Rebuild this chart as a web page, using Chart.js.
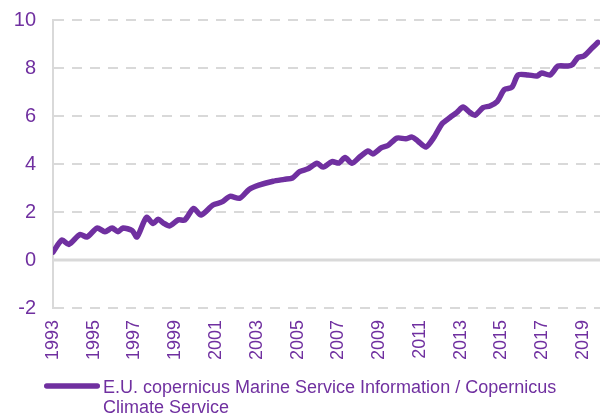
<!DOCTYPE html>
<html>
<head>
<meta charset="utf-8">
<script src="https://cdn.jsdelivr.net/npm/chart.js@4/dist/chart.umd.min.js"></script>
<style>
html,body{margin:0;padding:0;background:#ffffff;}
#wrap{width:601px;height:417px;position:relative;}
</style>
</head>
<body>
<div id="wrap"><canvas id="c" width="601" height="417"></canvas></div>
<script>
// Decimal years of each sample (x) and global mean sea level change (cm) (y)
const years = [
  1993.00, 1993.44, 1993.78, 1994.32, 1994.67, 1995.16, 1995.55, 1995.90, 1996.19, 1996.43,
  1996.88, 1997.12, 1997.58, 1997.92, 1998.16, 1998.42, 1998.73, 1999.14, 1999.47, 1999.90,
  2000.26, 2000.85, 2001.29, 2001.68, 2002.17, 2002.62, 2003.10, 2003.80, 2004.35, 2004.75,
  2005.10, 2005.51, 2005.96, 2006.25, 2006.69, 2007.03, 2007.33, 2007.67, 2008.06, 2008.46,
  2008.70, 2009.12, 2009.43, 2009.88, 2010.31, 2010.62, 2010.91, 2011.30, 2011.70, 2012.09,
  2012.48, 2012.82, 2013.12, 2013.45, 2013.71, 2014.10, 2014.44, 2014.79, 2015.15, 2015.52,
  2015.82, 2016.31, 2016.75, 2016.98, 2017.39, 2017.78, 2018.28, 2018.50, 2018.76, 2019.05,
  2019.45, 2019.74
];
const seaLevel = [
  0.33, 0.83, 0.65, 1.06, 0.96, 1.33, 1.18, 1.33, 1.18, 1.33,
  1.23, 0.96, 1.77, 1.52, 1.70, 1.54, 1.42, 1.67, 1.67, 2.15,
  1.87, 2.29, 2.42, 2.65, 2.58, 2.94, 3.12, 3.28, 3.36, 3.42,
  3.68, 3.80, 4.03, 3.87, 4.10, 4.04, 4.27, 4.03, 4.30, 4.54,
  4.42, 4.68, 4.77, 5.08, 5.05, 5.12, 4.95, 4.71, 5.12, 5.68,
  5.94, 6.15, 6.37, 6.15, 6.03, 6.35, 6.42, 6.60, 7.10, 7.20,
  7.71, 7.71, 7.67, 7.79, 7.71, 8.08, 8.08, 8.15, 8.44, 8.50,
  8.83, 9.07
];
const tickYears = [1993, 1995, 1997, 1999, 2001, 2003, 2005, 2007, 2009, 2011, 2013, 2015, 2017, 2019];
const yTicks = [-2, 0, 2, 4, 6, 8, 10];
const seriesLabel = ['E.U. copernicus Marine Service Information / Copernicus', 'Climate Service'];

const PURPLE = '#7030A0';
const GRID = '#D9D9D9';
const FONT = '"Liberation Sans", Arial, sans-serif';

// solid zero line across the plot
const zeroLine = {
  id: 'zeroLine',
  beforeDatasetsDraw(chart) {
    const {ctx, chartArea: a, scales: {y}} = chart;
    const py = y.getPixelForValue(0);
    ctx.save();
    ctx.strokeStyle = GRID;
    ctx.lineWidth = 3;
    ctx.beginPath();
    ctx.moveTo(a.left, py);
    ctx.lineTo(a.right, py);
    ctx.stroke();
    ctx.restore();
  }
};

// legend with a two-line label, placed under the x axis
const wrappedLegend = {
  id: 'wrappedLegend',
  afterDraw(chart) {
    const {ctx, scales: {x, y}} = chart;
    const ds = chart.data.datasets[0];
    const top = x.bottom;
    const left = y.left + 31;
    ctx.save();
    ctx.strokeStyle = ds.borderColor;
    ctx.lineWidth = 5.5;
    ctx.lineCap = 'round';
    ctx.beginPath();
    ctx.moveTo(left + 2.75, top + 18);
    ctx.lineTo(left + 53.25, top + 18);
    ctx.stroke();
    ctx.fillStyle = PURPLE;
    ctx.font = '18px ' + FONT;
    ctx.textAlign = 'left';
    ctx.textBaseline = 'middle';
    seriesLabel.forEach((line, i) => ctx.fillText(line, left + 59, top + 20 + i * 20));
    ctx.restore();
  }
};

new Chart(document.getElementById('c'), {
  type: 'line',
  data: {
    datasets: [{
      label: seriesLabel.join(' '),
      data: years.map((x, i) => ({x: x, y: seaLevel[i]})),
      borderColor: PURPLE,
      backgroundColor: PURPLE,
      borderWidth: 5.5,
      pointRadius: 0,
      tension: 0.25,
      borderCapStyle: 'round',
      borderJoinStyle: 'round',
      fill: false
    }]
  },
  options: {
    responsive: false,
    animation: false,
    devicePixelRatio: 1,
    layout: {padding: {left: 13, right: 1, top: 20, bottom: 49}},
    plugins: {
      tooltip: {enabled: false},
      legend: {display: false}
    },
    scales: {
      x: {
        type: 'linear',
        min: 1993,
        max: 2019.84,
        afterBuildTicks(scale) { scale.ticks = tickYears.map(v => ({value: v})); },
        afterFit(scale) { scale.height = 60; scale.paddingLeft = 0; scale.paddingRight = 0; },
        grid: {display: false, drawTicks: false},
        border: {display: false},
        ticks: {
          color: PURPLE,
          font: {family: FONT, size: 18},
          minRotation: 90,
          maxRotation: 90,
          padding: 12,
          autoSkip: false,
          callback: v => String(v)
        }
      },
      y: {
        min: -2,
        max: 10,
        afterBuildTicks(scale) { scale.ticks = yTicks.map(v => ({value: v})); },
        afterFit(scale) { scale.width = 40; scale.paddingTop = 0; scale.paddingBottom = 0; },
        grid: {color: GRID, lineWidth: 2, drawTicks: false},
        border: {display: true, color: GRID, width: 2, dash: [10, 8]},
        ticks: {
          color: PURPLE,
          font: {family: FONT, size: 20},
          padding: 17,
          callback: v => String(v)
        }
      }
    }
  },
  plugins: [zeroLine, wrappedLegend]
});
</script>
</body>
</html>
